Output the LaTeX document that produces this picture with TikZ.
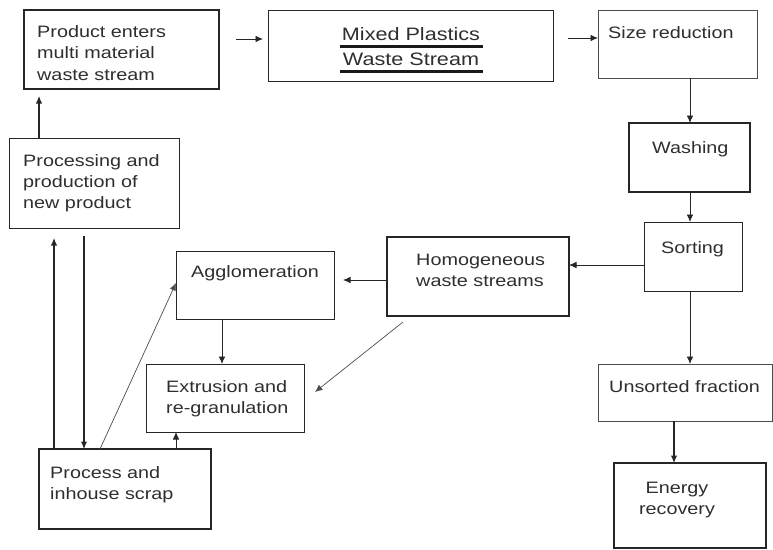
\documentclass[tikz,border=0pt]{standalone}
\usepackage{fontspec}
\setmainfont[FakeStretch=1.2]{Liberation Sans}
\usetikzlibrary{arrows.meta,calc}
\newcommand{\mlines}[2][l]{\begin{tabular}[t]{@{}#1@{}}#2\end{tabular}}
\begin{document}
\begin{tikzpicture}[x=1pt,y=-1pt,
  box/.style={draw=black!85, line width=1pt, anchor=north west, inner sep=0pt, outer sep=0pt},
  thickbox/.style={box, line width=1.3pt},
  txt/.style={inner sep=0pt, anchor=base west, text=black!82, font=\fontsize{16.5}{21.3}\selectfont},
  ctxt/.style={txt, anchor=base},
  arr/.style={draw=black!85, line width=0.8pt, -{Latex[length=7.5pt,width=6.5pt]}},
  farr/.style={arr, line width=1.1pt},
  ul/.style={draw=black!90, line width=2.3pt},
]
\useasboundingbox (0,0) rectangle (773,549);
% boxes
\node[box, line width=1.2pt, minimum width=195pt, minimum height=79pt] (prod) at (24,10) {};
\node[box, minimum width=285pt, minimum height=71pt] (mixed) at (268,10) {};
\node[box, draw=black!70, minimum width=159pt, minimum height=68pt] (size) at (598,10) {};
\node[thickbox, minimum width=121pt, minimum height=69pt] (wash) at (629,123) {};
\node[box, minimum width=98pt, minimum height=69pt] (sort) at (644,222) {};
\node[thickbox, minimum width=182pt, minimum height=79pt] (homog) at (387,237) {};
\node[box, draw=black!70, minimum width=174pt, minimum height=57pt] (unsorted) at (598,364) {};
\node[thickbox, minimum width=152pt, minimum height=85pt] (energy) at (614,463) {};
\node[box, minimum width=170pt, minimum height=90pt] (proc) at (9,138) {};
\node[thickbox, minimum width=172pt, minimum height=80pt] (scrap) at (39,449) {};
\node[box, minimum width=158pt, minimum height=68pt] (agglom) at (176,251) {};
\node[box, minimum width=158pt, minimum height=68pt] (extr) at (146,364) {};
% texts
\node[txt] (tprod) at (37,37.5) {\mlines{Product enters\\multi material\\waste stream}};
\node[ctxt, font=\fontsize{18}{25}\selectfont] (tmixed) at (411,40.5) {\mlines[c]{Mixed Plastics\\Waste Stream}};
\draw[ul] (340,46.5) -- (483,46.5);
\draw[ul] (340,71.5) -- (483,71.5);
\node[txt] (tsize) at (608,38) {Size reduction};
\node[txt] (twash) at (652,153) {Washing};
\node[txt] (tsort) at (661,253) {Sorting};
\node[txt] (thomog) at (416,265) {\mlines{Homogeneous\\waste streams}};
\node[txt] (tunsorted) at (609,392) {Unsorted fraction};
\node[ctxt] (tenergy) at (677,493) {\mlines[c]{Energy\\recovery}};
\node[txt] (tproc) at (23,166) {\mlines{Processing and\\production of\\new product}};
\node[txt] (tagglom) at (191,277) {Agglomeration};
\node[txt] (textr) at (166,392) {\mlines{Extrusion and\\re-granulation}};
\node[txt] (tscrap) at (50,478) {\mlines{Process and\\inhouse scrap}};
% helper coordinates
\coordinate (ya) at (0,39);
\coordinate (yb) at (0,38);
\coordinate (xc) at (690,0);
\coordinate (ye) at (0,265);
\coordinate (xg) at (674,0);
\coordinate (yh) at (0,280);
\coordinate (xj) at (222,0);
\coordinate (xk) at (176,0);
\coordinate (xm) at (54,0);
\coordinate (xn) at (84,0);
\coordinate (xo) at (39,0);
% connectors
\draw[arr, shorten <=17pt, shorten >=5pt] (prod.east |- ya) -- (mixed.west |- ya);
\draw[arr, shorten <=15pt] (mixed.east |- yb) -- (size.west |- yb);
\draw[arr] (size.south -| xc) -- (wash.north -| xc);
\draw[arr] (wash.south -| xc) -- (sort.north -| xc);
\draw[arr] (sort.west |- ye) -- (homog.east |- ye);
\draw[arr] (sort.south -| xc) -- (unsorted.north -| xc);
\draw[farr] (unsorted.south -| xg) -- (energy.north -| xg);
\draw[arr, shorten >=9pt] (homog.west |- yh) -- (agglom.east |- yh);
\draw[arr, draw=black!70, line width=0.7pt] ($(homog.south west)+(16,6)$) -- ($(extr.east)+(11,-6)$);
\draw[arr] (agglom.south -| xj) -- (extr.north -| xj);
\draw[arr] (scrap.north -| xk) -- (extr.south -| xk);
\draw[arr, draw=black!70, line width=0.7pt] ($(scrap.north west)+(61,0)$) -- ($(agglom.north west)+(0,32)$);
\draw[farr, shorten >=10pt] (scrap.north -| xm) -- (proc.south -| xm);
\draw[farr, shorten <=8pt] (proc.south -| xn) -- (scrap.north -| xn);
\draw[farr, shorten >=7pt] (proc.north -| xo) -- (prod.south -| xo);
\end{tikzpicture}
\end{document}
